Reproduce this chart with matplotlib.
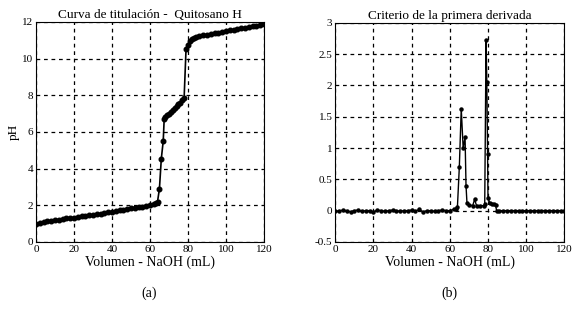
import matplotlib.pyplot as plt

plt.rcParams['font.family'] = ['Liberation Serif', 'DejaVu Serif']

# (a) curva de titulacion
vol_a = [0, 2, 4, 6, 8, 10, 12, 14, 16, 18, 20, 22, 24, 26, 28, 30, 32, 34, 36,
         38, 40, 42, 44, 46, 48, 50, 52, 54, 56, 58, 60, 62, 63, 64,
         65, 66, 67, 67.5, 68, 69, 70, 71, 72, 73, 74, 75, 76, 77, 78,
         79, 80, 81, 82, 83, 84, 86, 88, 90, 92, 94, 96, 98, 100, 102, 104, 106,
         108, 110, 112, 114, 116, 118, 120]
ph_a = [1.00, 1.04, 1.08, 1.12, 1.15, 1.19, 1.22, 1.25, 1.28, 1.30, 1.33, 1.37,
        1.40, 1.43, 1.46, 1.49, 1.52, 1.55, 1.58, 1.62, 1.65, 1.69, 1.72, 1.76,
        1.79, 1.83, 1.86, 1.90, 1.93, 1.97, 2.00, 2.05, 2.10, 2.20,
        2.90, 4.55, 5.50, 6.70, 6.80, 6.90, 7.00, 7.10, 7.20, 7.30, 7.40, 7.50,
        7.60, 7.72, 7.85, 10.50, 10.75, 10.95, 11.05, 11.15, 11.20, 11.24,
        11.28, 11.31, 11.35, 11.38, 11.42, 11.46, 11.50, 11.54, 11.58, 11.62,
        11.65, 11.69, 11.72, 11.76, 11.80, 11.84, 11.88]

# (b) primera derivada
vol_b = [0, 2, 4, 6, 8, 10, 12, 14, 16, 18, 20, 22, 24, 26, 28, 30, 32, 34, 36,
         38, 40, 42, 44, 46, 48, 50, 52, 54, 56, 58, 60, 62, 63, 64, 65, 66, 67,
         68, 68.5, 69, 70, 72, 73, 74, 76, 78, 78.3, 79, 79.4, 79.8, 80, 81, 82,
         83, 84, 84.5, 86, 88, 90, 92, 94, 96, 98, 100, 102, 104, 106, 108, 110,
         112, 114, 116, 118, 120]
dpdv_b = [0.00, -0.01, 0.01, 0.00, -0.02, 0.00, 0.01, -0.01, 0.00, 0.00, -0.02,
          0.01, 0.00, -0.01, 0.00, 0.01, 0.00, -0.01, 0.00, 0.00, 0.01, -0.01,
          0.02, -0.02, 0.00, 0.00, -0.01, 0.00, 0.01, 0.00, 0.00, 0.02, 0.03,
          0.06, 0.70, 1.63, 1.00, 1.17, 0.40, 0.12, 0.09, 0.08, 0.18, 0.08, 0.08,
          0.08, 0.10, 2.73, 2.05, 0.90, 0.20, 0.12, 0.11, 0.10, 0.09, 0.00, 0.00,
          0.00, 0.00, 0.00, 0.00, 0.00, 0.00, 0.00, 0.00, 0.00, 0.00, 0.00,
          0.00, 0.00, 0.00, 0.00, 0.00, 0.00]

fig = plt.figure(figsize=(5.8, 3.09), dpi=100)
ax1 = fig.add_axes([0.062, 0.217, 0.393, 0.712])
ax2 = fig.add_axes([0.578, 0.217, 0.395, 0.709])

grid_kw = dict(color='black', linestyle=(0, (3, 3)), linewidth=0.9)

ax1.plot(vol_a, ph_a, color='black', lw=1.2, marker='o', ms=3.3)
ax1.set_xlim(0, 120)
ax1.set_ylim(0, 12)
ax1.set_xticks(range(0, 121, 20))
ax1.set_yticks(range(0, 13, 2))
ax1.grid(True, **grid_kw)
ax1.set_title('Curva de titulación -  Quitosano H', fontsize=9.5, pad=3)
ax1.set_xlabel('Volumen - NaOH (mL)', fontsize=10, labelpad=1)
ax1.set_ylabel('pH', fontsize=9.5, labelpad=2)

ax2.plot(vol_b, dpdv_b, color='black', lw=1.0, marker='o', ms=2.2)
ax2.set_xlim(0, 120)
ax2.set_ylim(-0.5, 3)
ax2.set_xticks(range(0, 121, 20))
ax2.set_yticks([-0.5, 0, 0.5, 1, 1.5, 2, 2.5, 3])
ax2.set_yticklabels(['-0.5', '0', '0.5', '1', '1.5', '2', '2.5', '3'])
ax2.grid(True, **grid_kw)
ax2.set_title('Criterio de la primera derivada', fontsize=9.5, pad=3)
ax2.set_xlabel('Volumen - NaOH (mL)', fontsize=10, labelpad=1)

for ax in (ax1, ax2):
    ax.tick_params(labelsize=8, length=0, pad=2)
    for s in ax.spines.values():
        s.set_linewidth(0.8)
    ax.set_axisbelow(True)

fig.text(0.257, 0.04, '(a)', ha='center', fontsize=10)
fig.text(0.775, 0.04, '(b)', ha='center', fontsize=10)

fig.savefig('out.png', dpi=100, facecolor='white')
